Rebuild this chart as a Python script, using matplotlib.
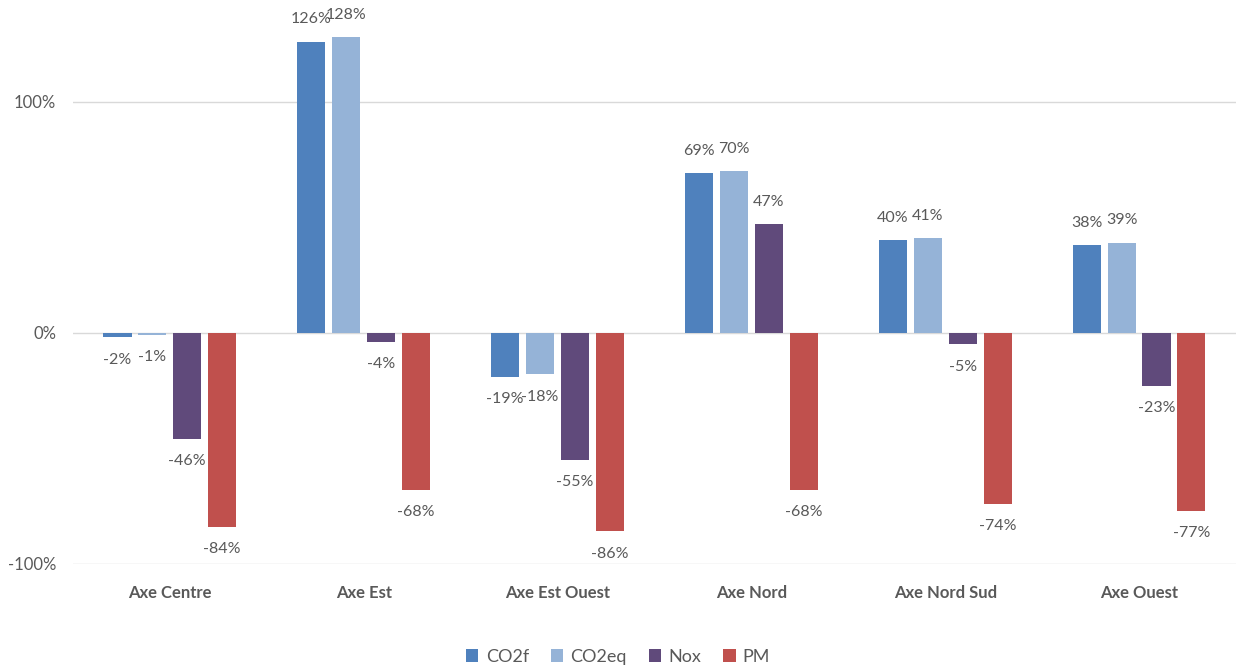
import matplotlib.pyplot as plt
import numpy as np

plt.rcParams['font.family'] = ['Lato', 'DejaVu Sans']

# values in percent
axes_names = ['Axe Centre', 'Axe Est', 'Axe Est Ouest', 'Axe Nord', 'Axe Nord Sud', 'Axe Ouest']
co2f = [-2, 126, -19, 69, 40, 38]
co2eq = [-1, 128, -18, 70, 41, 39]
nox = [-46, -4, -55, 47, -5, -23]
pm = [-84, -68, -86, -68, -74, -77]

series = [('CO2f', co2f, '#4F81BD'),
          ('CO2eq', co2eq, '#95B3D7'),
          ('Nox', nox, '#604A7B'),
          ('PM', pm, '#C0504D')]

txt = '#595959'

fig = plt.figure(figsize=(12.36, 6.68), dpi=100)
ax = fig.add_axes([0.059, 0.156, 0.941, 0.830])

x = np.arange(len(axes_names))
width = 0.145
offsets = [-0.27, -0.09, 0.09, 0.27]

for (name, vals, color), off in zip(series, offsets):
    bars = ax.bar(x + off, np.array(vals) / 100.0, width, color=color, label=name, zorder=3)
    for b, v in zip(bars, vals):
        dy = 16 if v >= 0 else -16
        ax.annotate(f'{v}%', (b.get_x() + b.get_width() / 2, v / 100.0),
                    xytext=(0, dy), textcoords='offset points',
                    ha='center', va='center', fontsize=11.5, color=txt, zorder=4)

ax.set_xlim(-0.5, len(axes_names) - 0.5)
ax.set_ylim(-1.0, 1.40)
ax.set_yticks([-1, 0, 1])
ax.set_yticklabels(['-100%', '0%', '100%'])
ax.set_xticks(x)
ax.set_xticklabels(axes_names, fontweight='bold')
ax.tick_params(axis='both', length=0, labelsize=12, labelcolor=txt)
ax.tick_params(axis='x', pad=15)
ax.tick_params(axis='y', pad=12)
ax.grid(axis='y', color='#D9D9D9', linewidth=1, zorder=0)
for s in ax.spines.values():
    s.set_visible(False)

handles, labels = ax.get_legend_handles_labels()
fig.legend(handles, labels, loc='center', bbox_to_anchor=(0.5, 0.017), ncol=4, frameon=False,
           fontsize=13, labelcolor=txt, handlelength=0.7, handleheight=0.7,
           handletextpad=0.4, columnspacing=1.2)

fig.savefig('out.png', dpi=100)
